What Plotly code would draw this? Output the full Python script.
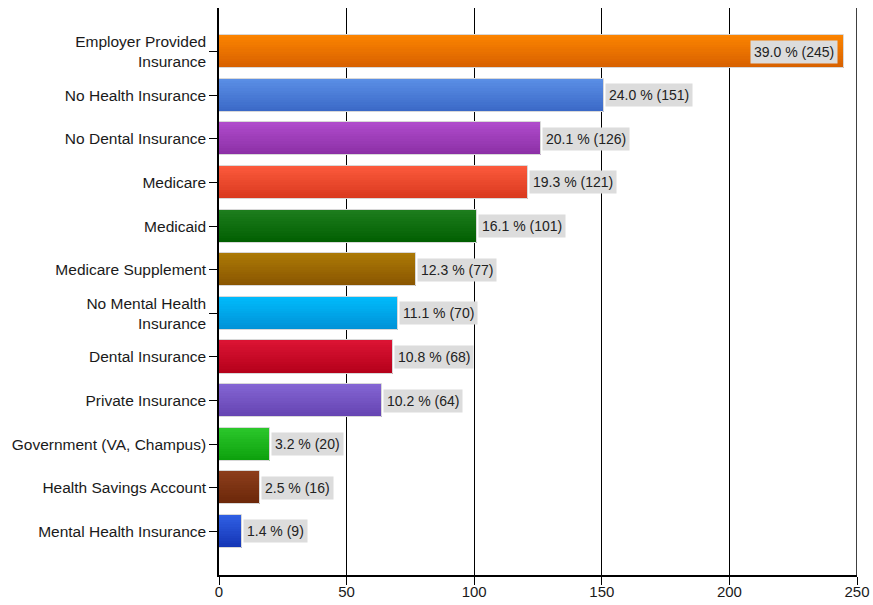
import plotly.graph_objects as go

categories = [
    "Employer Provided<br>Insurance",
    "No Health Insurance",
    "No Dental Insurance",
    "Medicare",
    "Medicaid",
    "Medicare Supplement",
    "No Mental Health<br>Insurance",
    "Dental Insurance",
    "Private Insurance",
    "Government (VA, Champus)",
    "Health Savings Account",
    "Mental Health Insurance",
]
counts = [245, 151, 126, 121, 101, 77, 70, 68, 64, 20, 16, 9]
percents = [39.0, 24.0, 20.1, 19.3, 16.1, 12.3, 11.1, 10.8, 10.2, 3.2, 2.5, 1.4]
x_ticks = [0, 50, 100, 150, 200, 250]

# top / bottom shade of each bar's vertical gradient
top_colors = ["#fc8400", "#5b8fe6", "#b04ccc", "#fc5a3c", "#1e7e1e", "#ac7a06",
              "#00bcfc", "#dc1434", "#8466d4", "#2cc82c", "#8c3e1c", "#3060e4"]
bottom_colors = ["#d65f00", "#3a68c6", "#8a2ea4", "#d8381e", "#005e00", "#885400",
                 "#0090d6", "#b4001a", "#6442b0", "#0ca00c", "#6a2608", "#1434b4"]


def hex_to_rgb(h):
    h = h.lstrip("#")
    return tuple(int(h[i:i + 2], 16) for i in (0, 2, 4))


def blend(c1, c2, t):
    a, b = hex_to_rgb(c1), hex_to_rgb(c2)
    return "rgb({},{},{})".format(*[round(a[i] + (b[i] - a[i]) * t) for i in range(3)])


bar_width = 0.76
n_slices = 14
slice_w = bar_width / n_slices
FONT = "Liberation Sans, Arial, sans-serif"

fig = go.Figure()

# gradient bars: thin horizontal strips stacked across the bar thickness
for k in range(n_slices):
    t = (k + 0.5) / n_slices
    offset = -bar_width / 2 + k * slice_w
    width = min(slice_w + 0.01, bar_width / 2 - offset)
    fig.add_trace(go.Bar(
        y=categories, x=counts, orientation="h",
        width=width, offset=offset,
        marker=dict(color=[blend(a, b, t) for a, b in zip(top_colors, bottom_colors)],
                    line=dict(width=0)),
        hoverinfo="skip", showlegend=False,
    ))

# light outline around each bar
fig.add_trace(go.Bar(
    y=categories, x=counts, orientation="h", width=bar_width,
    marker=dict(color="rgba(0,0,0,0)", line=dict(color="#d8d8d8", width=1)),
    showlegend=False,
))

for cat, c, p in zip(categories, counts, percents):
    inside = c > 220
    fig.add_annotation(
        x=c, y=cat, text=f"{p:.1f} % ({c})", showarrow=False,
        xanchor="right" if inside else "left",
        xshift=-6 if inside else 1,
        bgcolor="#dcdcdc", borderpad=3,
        font=dict(family=FONT, size=14, color="#222222"),
    )

# closing line at the right end of the value scale
fig.add_shape(type="line", x0=x_ticks[-1], x1=x_ticks[-1], y0=0, y1=1,
              xref="x", yref="paper", line=dict(color="#000000", width=1.5))

fig.update_layout(
    width=873, height=605,
    margin=dict(l=219, r=16, t=8, b=30),
    paper_bgcolor="white", plot_bgcolor="white",
    barmode="overlay", bargap=0,
    font=dict(family=FONT, size=15, color="#1a1a1a"),
    xaxis=dict(
        range=[0, 250], tickvals=x_ticks, ticks="outside", ticklen=8,
        tickcolor="#000000", showgrid=True, gridcolor="#000000", gridwidth=1,
        showline=True, linecolor="#000000", linewidth=1.5, zeroline=False,
        tickfont=dict(size=15), fixedrange=True, automargin=False,
        ticklabelstandoff=-6,
    ),
    yaxis=dict(
        categoryorder="array", categoryarray=categories,
        range=[len(categories), -1], ticks="outside", ticklen=8,
        tickcolor="#000000", showline=True, linecolor="#000000", linewidth=1.5,
        showgrid=False, zeroline=False, tickfont=dict(size=15.5), fixedrange=True,
        automargin=False,
    ),
)

fig.write_html("out.html")
